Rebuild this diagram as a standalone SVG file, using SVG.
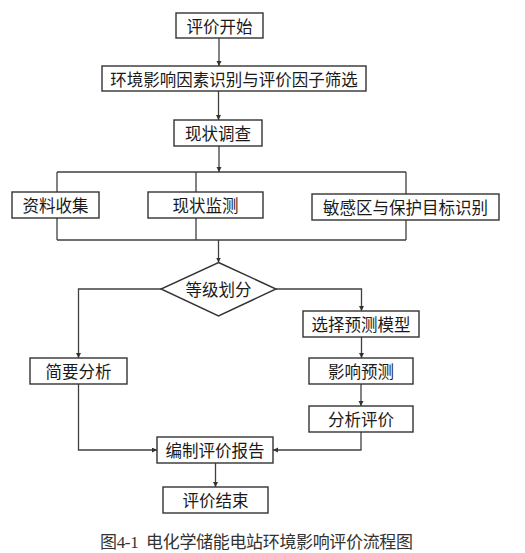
<svg xmlns="http://www.w3.org/2000/svg" width="525" height="553" viewBox="0 0 525 553">
<defs>
<marker id="arr" markerUnits="userSpaceOnUse" markerWidth="6" markerHeight="6" refX="5" refY="2.5" orient="auto">
<path d="M0,0 L5,2.5 L0,5 Z" fill="#333"/>
</marker>
<style>
.box{fill:#fff;stroke:#333;stroke-width:1.4}
.ln{fill:none;stroke:#404040;stroke-width:1.3}
.ar{fill:none;stroke:#404040;stroke-width:1.3;marker-end:url(#arr)}
.t{font-family:"Noto Sans CJK SC","Noto Sans",sans-serif;font-size:16.5px;fill:#1a1a1a;text-anchor:middle;dominant-baseline:central}
.cap{font-family:"Liberation Serif","Noto Sans CJK SC",serif;font-size:17px;fill:#333}
</style>
</defs>
<rect width="525" height="553" fill="#fff"/>
<g id="connectors">
<path class="ar" d="M219,38 V66"/>
<path class="ar" d="M218.5,91 V120"/>
<path class="ar" d="M219,146 V172"/>
<path class="ln" d="M57,172 H406 M57,172 V240 M196,172 V240 M406,172 V240 M57,240 H406"/>
<path class="ar" d="M218.5,240 V262.5"/>
<path class="ar" d="M161,289 H78.5 V358"/>
<path class="ar" d="M276,289 H361.5 V311"/>
<path class="ar" d="M361.5,337 V358"/>
<path class="ar" d="M361,384 V406"/>
<path class="ar" d="M78.5,384 V450 H157"/>
<path class="ar" d="M361,432 V450 H273"/>
<path class="ar" d="M215.5,463 V487"/>
</g>
<g id="start"><rect class="box" x="176" y="13" width="87" height="25"/><text class="t" x="219.5" y="25.5">评价开始</text></g>
<g id="identify"><rect class="box" x="102" y="66" width="264" height="25"/><text class="t" x="234" y="78.5">环境影响因素识别与评价因子筛选</text></g>
<g id="survey"><rect class="box" x="174" y="120" width="88" height="26"/><text class="t" x="218" y="133">现状调查</text></g>
<g id="collect"><rect class="box" x="12" y="192" width="87" height="26"/><text class="t" x="55.5" y="205">资料收集</text></g>
<g id="monitor"><rect class="box" x="148" y="192" width="115" height="26"/><text class="t" x="205.5" y="205">现状监测</text></g>
<g id="sensitive"><rect class="box" x="312" y="194" width="187" height="26"/><text class="t" x="405.5" y="207">敏感区与保护目标识别</text></g>
<g id="grade"><path class="box" d="M218.5,262.5 L276,289 L218.5,316 L161,289 Z"/><text class="t" x="218.5" y="289">等级划分</text></g>
<g id="model"><rect class="box" x="303" y="311" width="116" height="26"/><text class="t" x="361" y="324">选择预测模型</text></g>
<g id="brief"><rect class="box" x="30" y="358" width="97" height="26"/><text class="t" x="78.5" y="371">简要分析</text></g>
<g id="predict"><rect class="box" x="309" y="358" width="104" height="26"/><text class="t" x="361" y="371">影响预测</text></g>
<g id="analyze"><rect class="box" x="309" y="406" width="104" height="26"/><text class="t" x="361" y="419">分析评价</text></g>
<g id="report"><rect class="box" x="157" y="437" width="116" height="26"/><text class="t" x="215" y="450">编制评价报告</text></g>
<g id="end"><rect class="box" x="163" y="487" width="105" height="26"/><text class="t" x="215.5" y="500">评价结束</text></g>
<text class="cap" x="100" y="548" xml:space="preserve" textLength="313" lengthAdjust="spacing">图4-1  电化学储能电站环境影响评价流程图</text>
</svg>
